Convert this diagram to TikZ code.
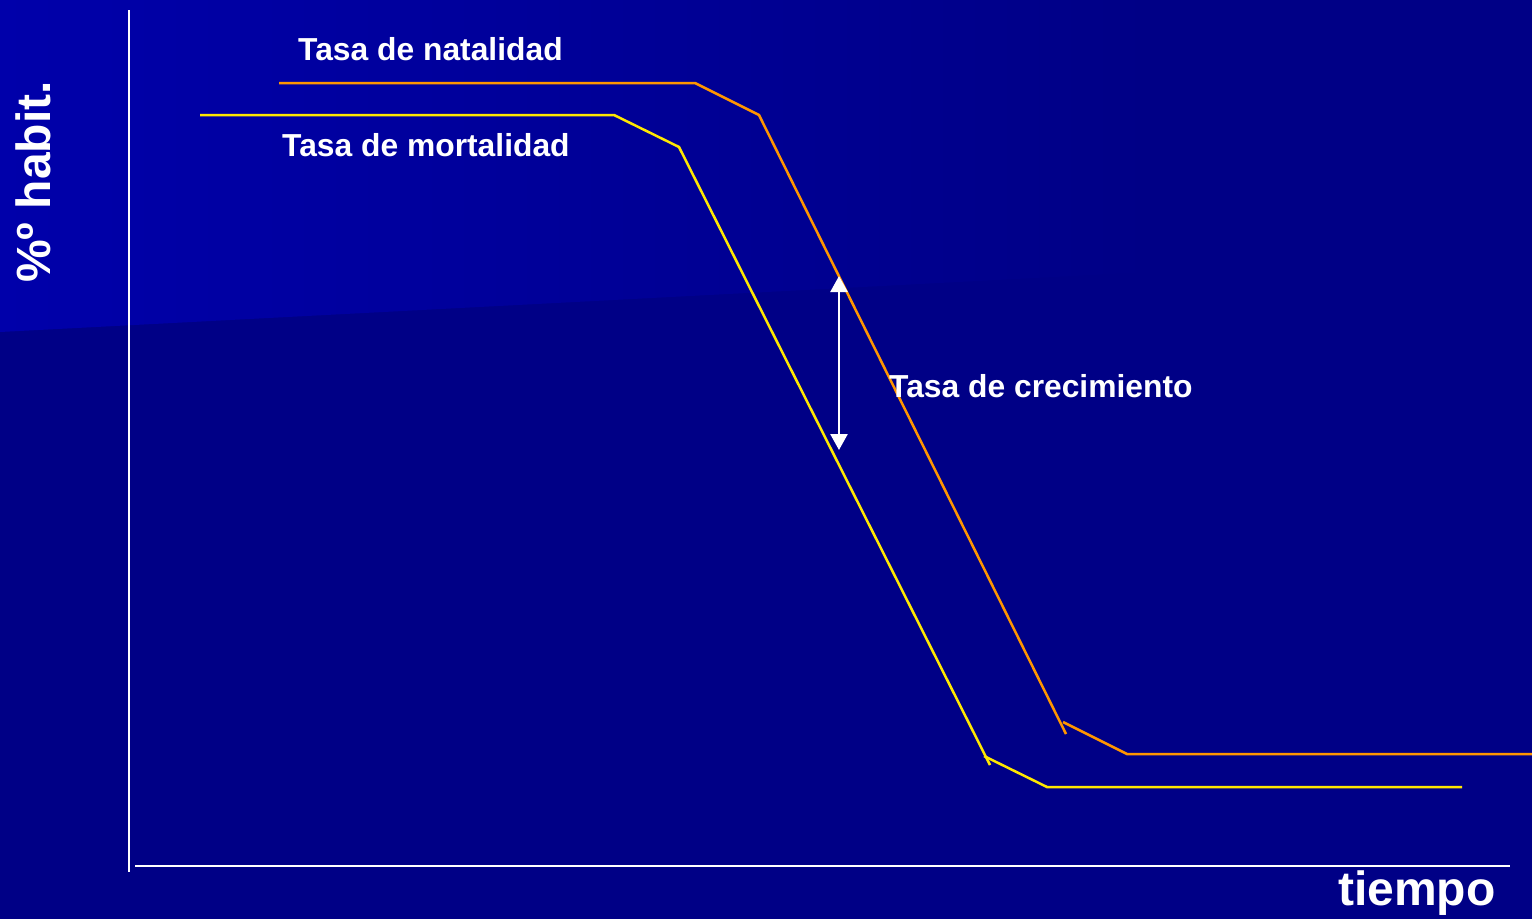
\documentclass[tikz,border=0pt]{standalone}
\usepackage{fontspec}
\setmainfont{Liberation Sans}
\usetikzlibrary{arrows.meta, positioning}
\definecolor{navy}{RGB}{0,0,134}
\definecolor{lightnavy}{RGB}{0,0,170}
\definecolor{natal}{RGB}{255,150,0}
\definecolor{mortal}{RGB}{255,232,0}
\begin{document}
\begin{tikzpicture}[
	x = 1pt, y = -1pt,
	> = {Triangle[length=16pt,width=17pt]},
	axis/.style = {white, line width=2.5pt},
	natline/.style = {natal, line width=2.5pt},
	mortline/.style = {mortal, line width=2.5pt},
	label/.style = {white, font=\bfseries\fontsize{31.8}{36}\selectfont, inner sep=0pt, anchor=base west},
	bigtext/.style = {white, font=\bfseries\fontsize{48}{54}\selectfont, inner sep=0pt, anchor=base west}
	]
	\useasboundingbox (0,0) rectangle (1532,919);
	\fill[navy] (0,0) rectangle (1532,919);
	\shade[left color=lightnavy, middle color=lightnavy!80!navy, right color=navy]
	(0,0) -- (1150,0) -- (1150,272) -- (0,332) -- cycle;
	% axes
	\coordinate (yTop) at (129,10);
	\coordinate (yBot) at (129,872);
	\coordinate (xLeft) at (135,866);
	\coordinate (xRight) at (1510,866);
	\draw[axis] (yTop) -- (yBot);
	\draw[axis] (xLeft) -- (xRight);
	\node[bigtext, rotate=90] (ylab) at (50,283) {\%º habit.};
	\node[bigtext] (xlab) at (1338,905) {tiempo};
	% natalidad
	\coordinate (n1) at (279,83);
	\coordinate (n2) at (695,83);
	\coordinate (n3) at (759,115);
	\coordinate (n4) at (1066,734);
	\coordinate (n5) at (1063,722);
	\coordinate (n6) at (1127,754);
	\coordinate (n7) at (1532,754);
	\draw[natline] (n1) -- (n2) -- (n3) -- (n4);
	\draw[natline] (n5) -- (n6) -- (n7);
	% mortalidad
	\coordinate (m1) at (200,115);
	\coordinate (m2) at (614,115);
	\coordinate (m3) at (679,147);
	\coordinate (m4) at (990,765);
	\coordinate (m5) at (984,756);
	\coordinate (m6) at (1047,787);
	\coordinate (m7) at (1462,787);
	\draw[mortline] (m1) -- (m2) -- (m3) -- (m4);
	\draw[mortline] (m5) -- (m6) -- (m7);
	% labels
	\node[label] (natal) at (298,60) {Tasa de natalidad};
	\node[label] (mortal) at (282,156) {Tasa de mortalidad};
	\node[label] (crec) at (889,397) {Tasa de crecimiento};
	% growth arrow
	\coordinate (gTop) at (839,276);
	\coordinate (gBot) at (839,450);
	\draw[<->, white, line width=2.5pt] (gTop) -- (gBot);
\end{tikzpicture}
\end{document}
